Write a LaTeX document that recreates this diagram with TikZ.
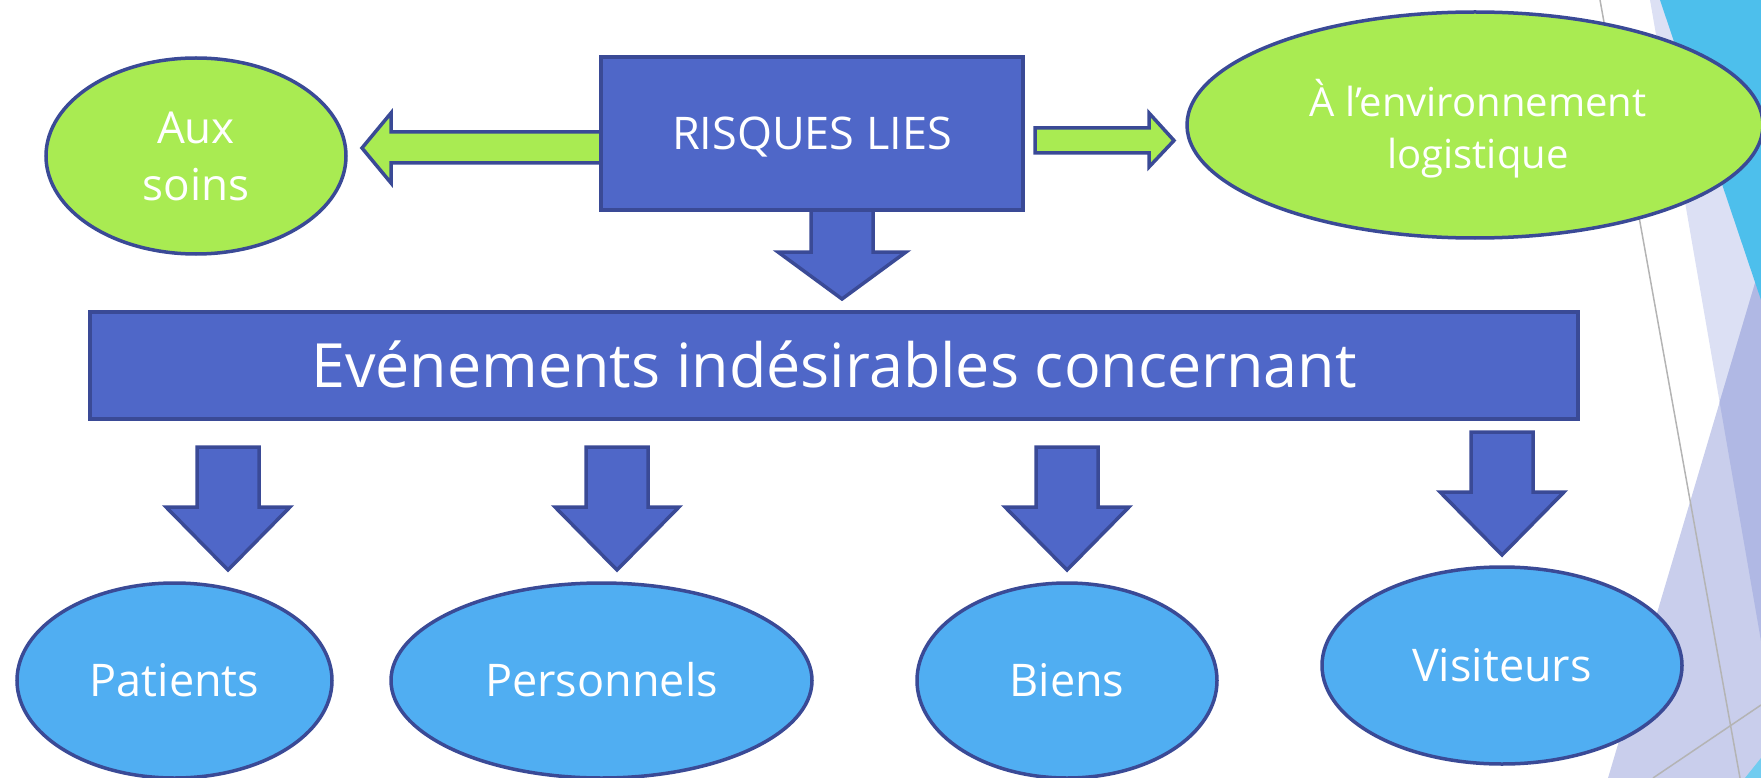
\documentclass[tikz,border=0pt]{standalone}
\usepackage{fontspec}
\setmainfont{Open Sans}
\usetikzlibrary{shapes.geometric}
\definecolor{grn}{HTML}{A9EB52}
\definecolor{boxblue}{HTML}{4F67C8}
\definecolor{navy}{HTML}{3A4A96}
\definecolor{skyb}{HTML}{50AEF2}
\definecolor{decoblue}{HTML}{4DBFEC}
\definecolor{palelav}{HTML}{DCE0F4}
\definecolor{midlav}{HTML}{C9CEEC}
\definecolor{darklav}{HTML}{B0B8E4}
\definecolor{greyline}{HTML}{B4B4B4}
\newcommand{\dnblk}[4]{\draw[blkarrow] ({#1-31},#2) -- ({#1+31},#2) -- ({#1+31},#3) -- ({#1+62},#3) -- (#1,#4) -- ({#1-62},#3) -- ({#1-31},#3) -- cycle;}
\begin{document}
\begin{tikzpicture}[x=1pt,y=-1pt,
  outl/.style={draw=navy, line width=3.5pt},
  greenell/.style={ellipse, outl, fill=grn, text=white, inner sep=0pt, align=center},
  blueell/.style={ellipse, outl, fill=skyb, text=white, inner sep=0pt, font=\fontsize{45}{54}\selectfont, text height=32pt, text depth=0pt},
  bluebox/.style={rectangle, outl, fill=boxblue, text=white, inner sep=0pt},
  blkarrow/.style={outl, fill=boxblue},
  grnarrow/.style={outl, fill=grn},
]
\useasboundingbox (0,0) rectangle (1761,778);
\clip (0,0) rectangle (1761,778);
% background decoration
\fill[palelav] (1650,0) -- (1761,0) -- (1761,641) -- cycle;
\fill[midlav] (1608,778) -- (1761,263) -- (1761,778) -- cycle;
\fill[darklav] (1719.6,402) -- (1761,263) -- (1761,641) -- cycle;
\fill[decoblue] (1660,0) -- (1761,0) -- (1761,300) -- cycle;
\fill[decoblue!80] (1745,778) -- (1761,758) -- (1761,778) -- cycle;
\draw[greyline, line width=1.5pt] (1600,0) -- (1740,778);
\draw[greyline, line width=1.5pt] (1653,778) -- (1761,705);
% block arrows
\draw[grnarrow] (601,132) -- (391,132) -- (391,113) -- (362,148) -- (391,183) -- (391,163) -- (601,163) -- cycle;
\draw[grnarrow] (1035,128) -- (1149,128) -- (1149,113) -- (1174,140.5) -- (1149,167) -- (1149,153) -- (1035,153) -- cycle;
\draw[blkarrow] (811,210) -- (811,252) -- (778,252) -- (842,299) -- (906,252) -- (873,252) -- (873,210) -- cycle;
\dnblk{228}{447}{507}{570}
\dnblk{617}{447}{507}{570}
\dnblk{1067}{447}{507}{570}
\dnblk{1502}{432}{492}{555}
% nodes
\node[bluebox, minimum width=422pt, minimum height=153pt, font=\fontsize{45}{54}\selectfont, text height=32pt, text depth=0pt] (risques) at (812,133.5) {RISQUES LIES};
\node[bluebox, minimum width=1488pt, minimum height=107pt, font=\fontsize{61}{70}\selectfont, text height=43.5pt, text depth=0pt] (evt) at (834,365.5) {Evénements indésirables concernant};
\node[greenell, minimum width=300pt, minimum height=196pt, font=\fontsize{44}{57}\selectfont] (aux) at (196,156) {Aux\\soins};
\node[greenell, minimum width=576pt, minimum height=226pt] (env) at (1475,125) {};
\node[text=white, align=center, inner sep=0pt, font=\fontsize{40}{52}\selectfont] (envtxt) at (1478,129) {À l’environnement\\logistique};
\node[blueell, minimum width=315pt, minimum height=195pt] (patients) at (174.5,680.5) {Patients};
\node[blueell, minimum width=421pt, minimum height=195pt] (personnels) at (601.5,680.5) {Personnels};
\node[blueell, minimum width=300pt, minimum height=195pt] (biens) at (1067,680.5) {Biens};
\node[blueell, minimum width=360pt, minimum height=197pt] (visiteurs) at (1502,665.5) {Visiteurs};
\end{tikzpicture}
\end{document}
